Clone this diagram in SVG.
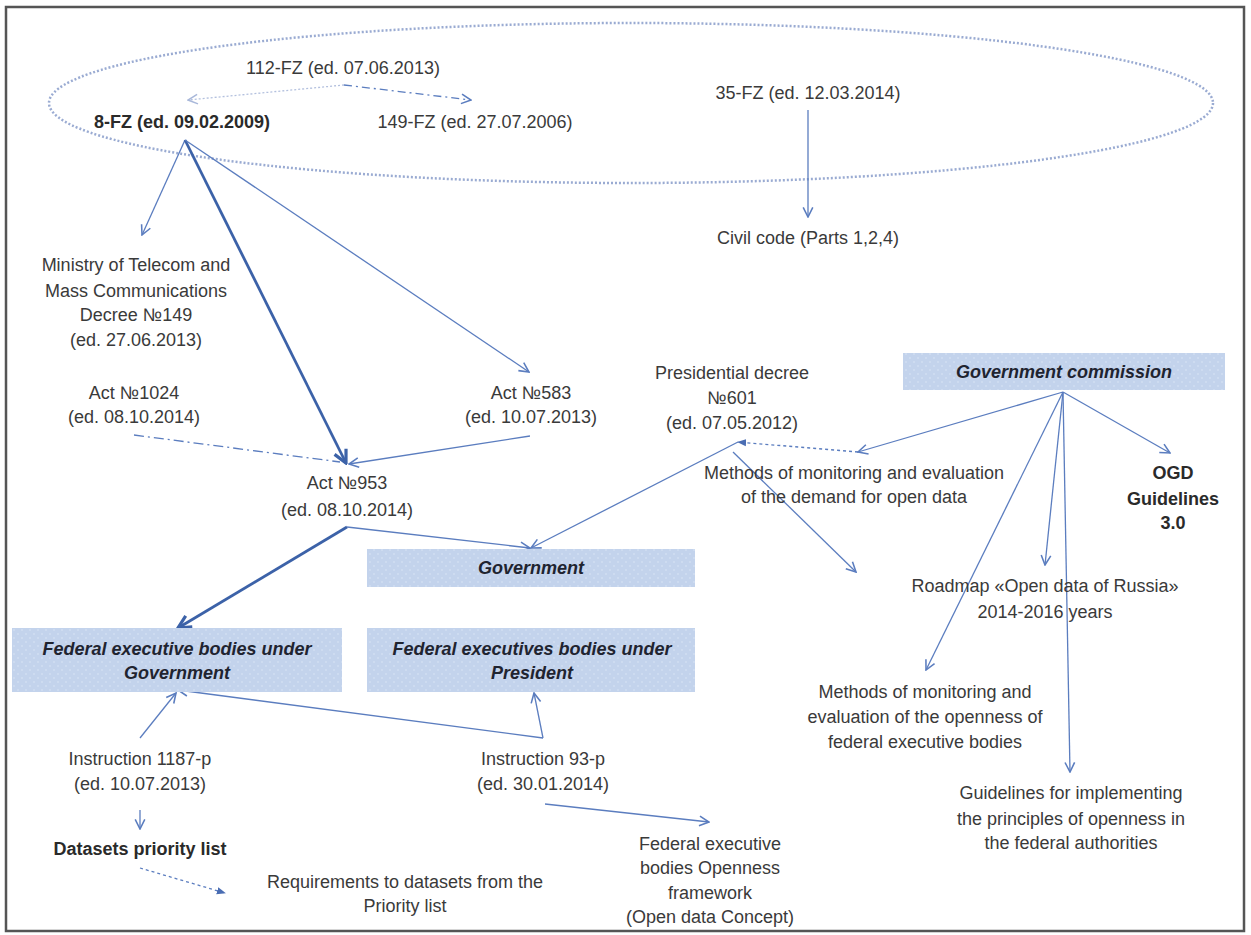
<svg xmlns="http://www.w3.org/2000/svg" width="1251" height="935" viewBox="0 0 1251 935">
<style>
  text { font-family: "Liberation Sans", Arial, sans-serif; font-size: 18px; fill: #3a3a3a; text-anchor: middle; }
  .b { font-weight: bold; fill: #2a2a2a; }
  .bi { font-weight: bold; font-style: italic; fill: #1f2430; }
  .box { fill: url(#dots); }
  .ln { fill: none; stroke: #5b7dbf; stroke-width: 1.3; }
  .thick { fill: none; stroke: #3c62a8; stroke-width: 2.8; }
</style>
<defs>
  <pattern id="dots" width="8" height="8" patternUnits="userSpaceOnUse">
    <rect width="8" height="8" fill="#c3d3ec"/>
    <circle cx="2" cy="2" r="0.8" fill="#dbe6f6"/>
    <circle cx="6" cy="6" r="0.8" fill="#dbe6f6"/>
  </pattern>
  <marker id="a" viewBox="0 0 10 10" refX="9" refY="5" markerWidth="12" markerHeight="12" markerUnits="userSpaceOnUse" orient="auto">
    <path d="M1,1 L9,5 L1,9" fill="none" stroke="#5b7dbf" stroke-width="1.3"/>
  </marker>
  <marker id="at" viewBox="0 0 10 10" refX="9" refY="5" markerWidth="16" markerHeight="16" markerUnits="userSpaceOnUse" orient="auto">
    <path d="M1,1 L9,5 L1,9" fill="none" stroke="#3c62a8" stroke-width="2"/>
  </marker>
  <marker id="al" viewBox="0 0 10 10" refX="9" refY="5" markerWidth="12" markerHeight="12" markerUnits="userSpaceOnUse" orient="auto">
    <path d="M1,1 L9,5 L1,9" fill="none" stroke="#a9b8da" stroke-width="1.3"/>
  </marker>
  <marker id="af" viewBox="0 0 10 10" refX="9" refY="5" markerWidth="9" markerHeight="9" markerUnits="userSpaceOnUse" orient="auto">
    <path d="M0,1 L10,5 L0,9 Z" fill="#4a6db3"/>
  </marker>
</defs>
<rect x="0" y="0" width="1251" height="935" fill="#ffffff"/>
<rect x="6" y="7" width="1238" height="924" fill="none" stroke="#555" stroke-width="2.5"/>
<ellipse id="law-ellipse" cx="631" cy="103" rx="582" ry="80" fill="none" stroke="#9aabd2" stroke-width="2.5" stroke-dasharray="2 2"/>

<g id="connectors">
  <path class="ln" d="M344,85 L188,100" stroke="#b3c0de" style="stroke:#b3c0de" stroke-dasharray="2 2" marker-end="url(#al)"/>
  <path class="ln" d="M344,85 L471,100" stroke-dasharray="8 4 2 4" marker-end="url(#a)"/>
  <path class="ln" d="M808,110 L808,217" marker-end="url(#a)"/>
  <path class="ln" d="M185,140 L142,235" marker-end="url(#a)"/>
  <path class="thick" d="M185,140 L346,463" marker-end="url(#at)"/>
  <path class="ln" d="M185,140 L529,372" marker-end="url(#a)"/>
  <path class="ln" d="M134,435 L340,462" stroke-dasharray="10 4 2 4"/>
  <path class="ln" d="M530,436 L349,464" marker-end="url(#a)"/>
  <path class="ln" d="M347,527 L530,548" marker-end="url(#a)"/>
  <path class="thick" d="M347,527 L178,628" marker-end="url(#at)"/>
  <path class="ln" d="M738,442 L531,548" marker-end="url(#a)"/>
  <path class="ln" d="M858,452 L738,442" stroke-dasharray="3 3" marker-end="url(#af)"/>
  <path class="ln" d="M733,452 L856,572" marker-end="url(#a)"/>
  <path class="ln" d="M1063,392 L858,452" marker-end="url(#a)"/>
  <path class="ln" d="M1063,392 L1170,453" marker-end="url(#a)"/>
  <path class="ln" d="M1063,392 L1045,565" marker-end="url(#a)"/>
  <path class="ln" d="M1063,392 L926,670" marker-end="url(#a)"/>
  <path class="ln" d="M1063,392 L1070,772" marker-end="url(#a)"/>
  <path class="ln" d="M140,738 L176,693" marker-end="url(#a)"/>
  <path class="ln" d="M543,738 L178,690" marker-end="url(#a)"/>
  <path class="ln" d="M543,738 L534,693" marker-end="url(#a)"/>
  <path class="ln" d="M140,810 L140,829" marker-end="url(#a)"/>
  <path class="ln" d="M140,868 L225,893" stroke-dasharray="3 3" marker-end="url(#af)"/>
  <path class="ln" d="M545,804 L709,822" marker-end="url(#a)"/>
</g>

<g id="fz112"><text x="343" y="74">112-FZ (ed. 07.06.2013)</text></g>
<g id="fz8"><text class="b" x="182" y="128">8-FZ (ed. 09.02.2009)</text></g>
<g id="fz149"><text x="475" y="128">149-FZ (ed. 27.07.2006)</text></g>
<g id="fz35"><text x="808" y="99">35-FZ (ed. 12.03.2014)</text></g>
<g id="civil-code"><text x="808" y="244">Civil code (Parts 1,2,4)</text></g>
<g id="ministry-decree">
  <text x="136" y="271">Ministry of Telecom and</text>
  <text x="136" y="297">Mass Communications</text>
  <text x="136" y="321">Decree №149</text>
  <text x="136" y="346">(ed. 27.06.2013)</text>
</g>
<g id="act1024"><text x="134" y="399">Act №1024</text><text x="134" y="423">(ed. 08.10.2014)</text></g>
<g id="act583"><text x="531" y="399">Act №583</text><text x="531" y="423">(ed. 10.07.2013)</text></g>
<g id="act953"><text x="347" y="489">Act №953</text><text x="347" y="516">(ed. 08.10.2014)</text></g>
<g id="presidential-decree">
  <text x="732" y="379">Presidential decree</text>
  <text x="732" y="404">№601</text>
  <text x="732" y="429">(ed. 07.05.2012)</text>
</g>
<g id="gov-commission">
  <rect class="box" x="903" y="353" width="322" height="37"/>
  <text class="bi" x="1064" y="378">Government commission</text>
</g>
<g id="methods-demand">
  <text x="854" y="479">Methods of monitoring and evaluation</text>
  <text x="854" y="503">of the demand for open data</text>
</g>
<g id="ogd-guidelines">
  <text class="b" x="1173" y="479">OGD</text>
  <text class="b" x="1173" y="505">Guidelines</text>
  <text class="b" x="1173" y="529">3.0</text>
</g>
<g id="government">
  <rect class="box" x="367" y="549" width="328" height="38"/>
  <text class="bi" x="531" y="574">Government</text>
</g>
<g id="roadmap">
  <text x="1045" y="592">Roadmap «Open data of Russia»</text>
  <text x="1045" y="618">2014-2016 years</text>
</g>
<g id="feb-government">
  <rect class="box" x="12" y="628" width="330" height="64"/>
  <text class="bi" x="177" y="655">Federal executive bodies under</text>
  <text class="bi" x="177" y="679">Government</text>
</g>
<g id="feb-president">
  <rect class="box" x="367" y="628" width="328" height="64"/>
  <text class="bi" x="532" y="655">Federal executives bodies under</text>
  <text class="bi" x="532" y="679">President</text>
</g>
<g id="methods-openness">
  <text x="925" y="698">Methods of monitoring and</text>
  <text x="925" y="723">evaluation of the openness of</text>
  <text x="925" y="748">federal executive bodies</text>
</g>
<g id="guidelines-openness">
  <text x="1071" y="799">Guidelines for implementing</text>
  <text x="1071" y="825">the principles of openness in</text>
  <text x="1071" y="849">the federal authorities</text>
</g>
<g id="instruction1187"><text x="140" y="765">Instruction 1187-p</text><text x="140" y="790">(ed. 10.07.2013)</text></g>
<g id="datasets-priority"><text class="b" x="140" y="855">Datasets priority list</text></g>
<g id="requirements">
  <text x="405" y="888">Requirements to datasets from the</text>
  <text x="405" y="912">Priority list</text>
</g>
<g id="instruction93"><text x="543" y="765">Instruction 93-p</text><text x="543" y="790">(ed. 30.01.2014)</text></g>
<g id="openness-framework">
  <text x="710" y="850">Federal executive</text>
  <text x="710" y="874">bodies Openness</text>
  <text x="710" y="899">framework</text>
  <text x="710" y="923">(Open data Concept)</text>
</g>
</svg>
